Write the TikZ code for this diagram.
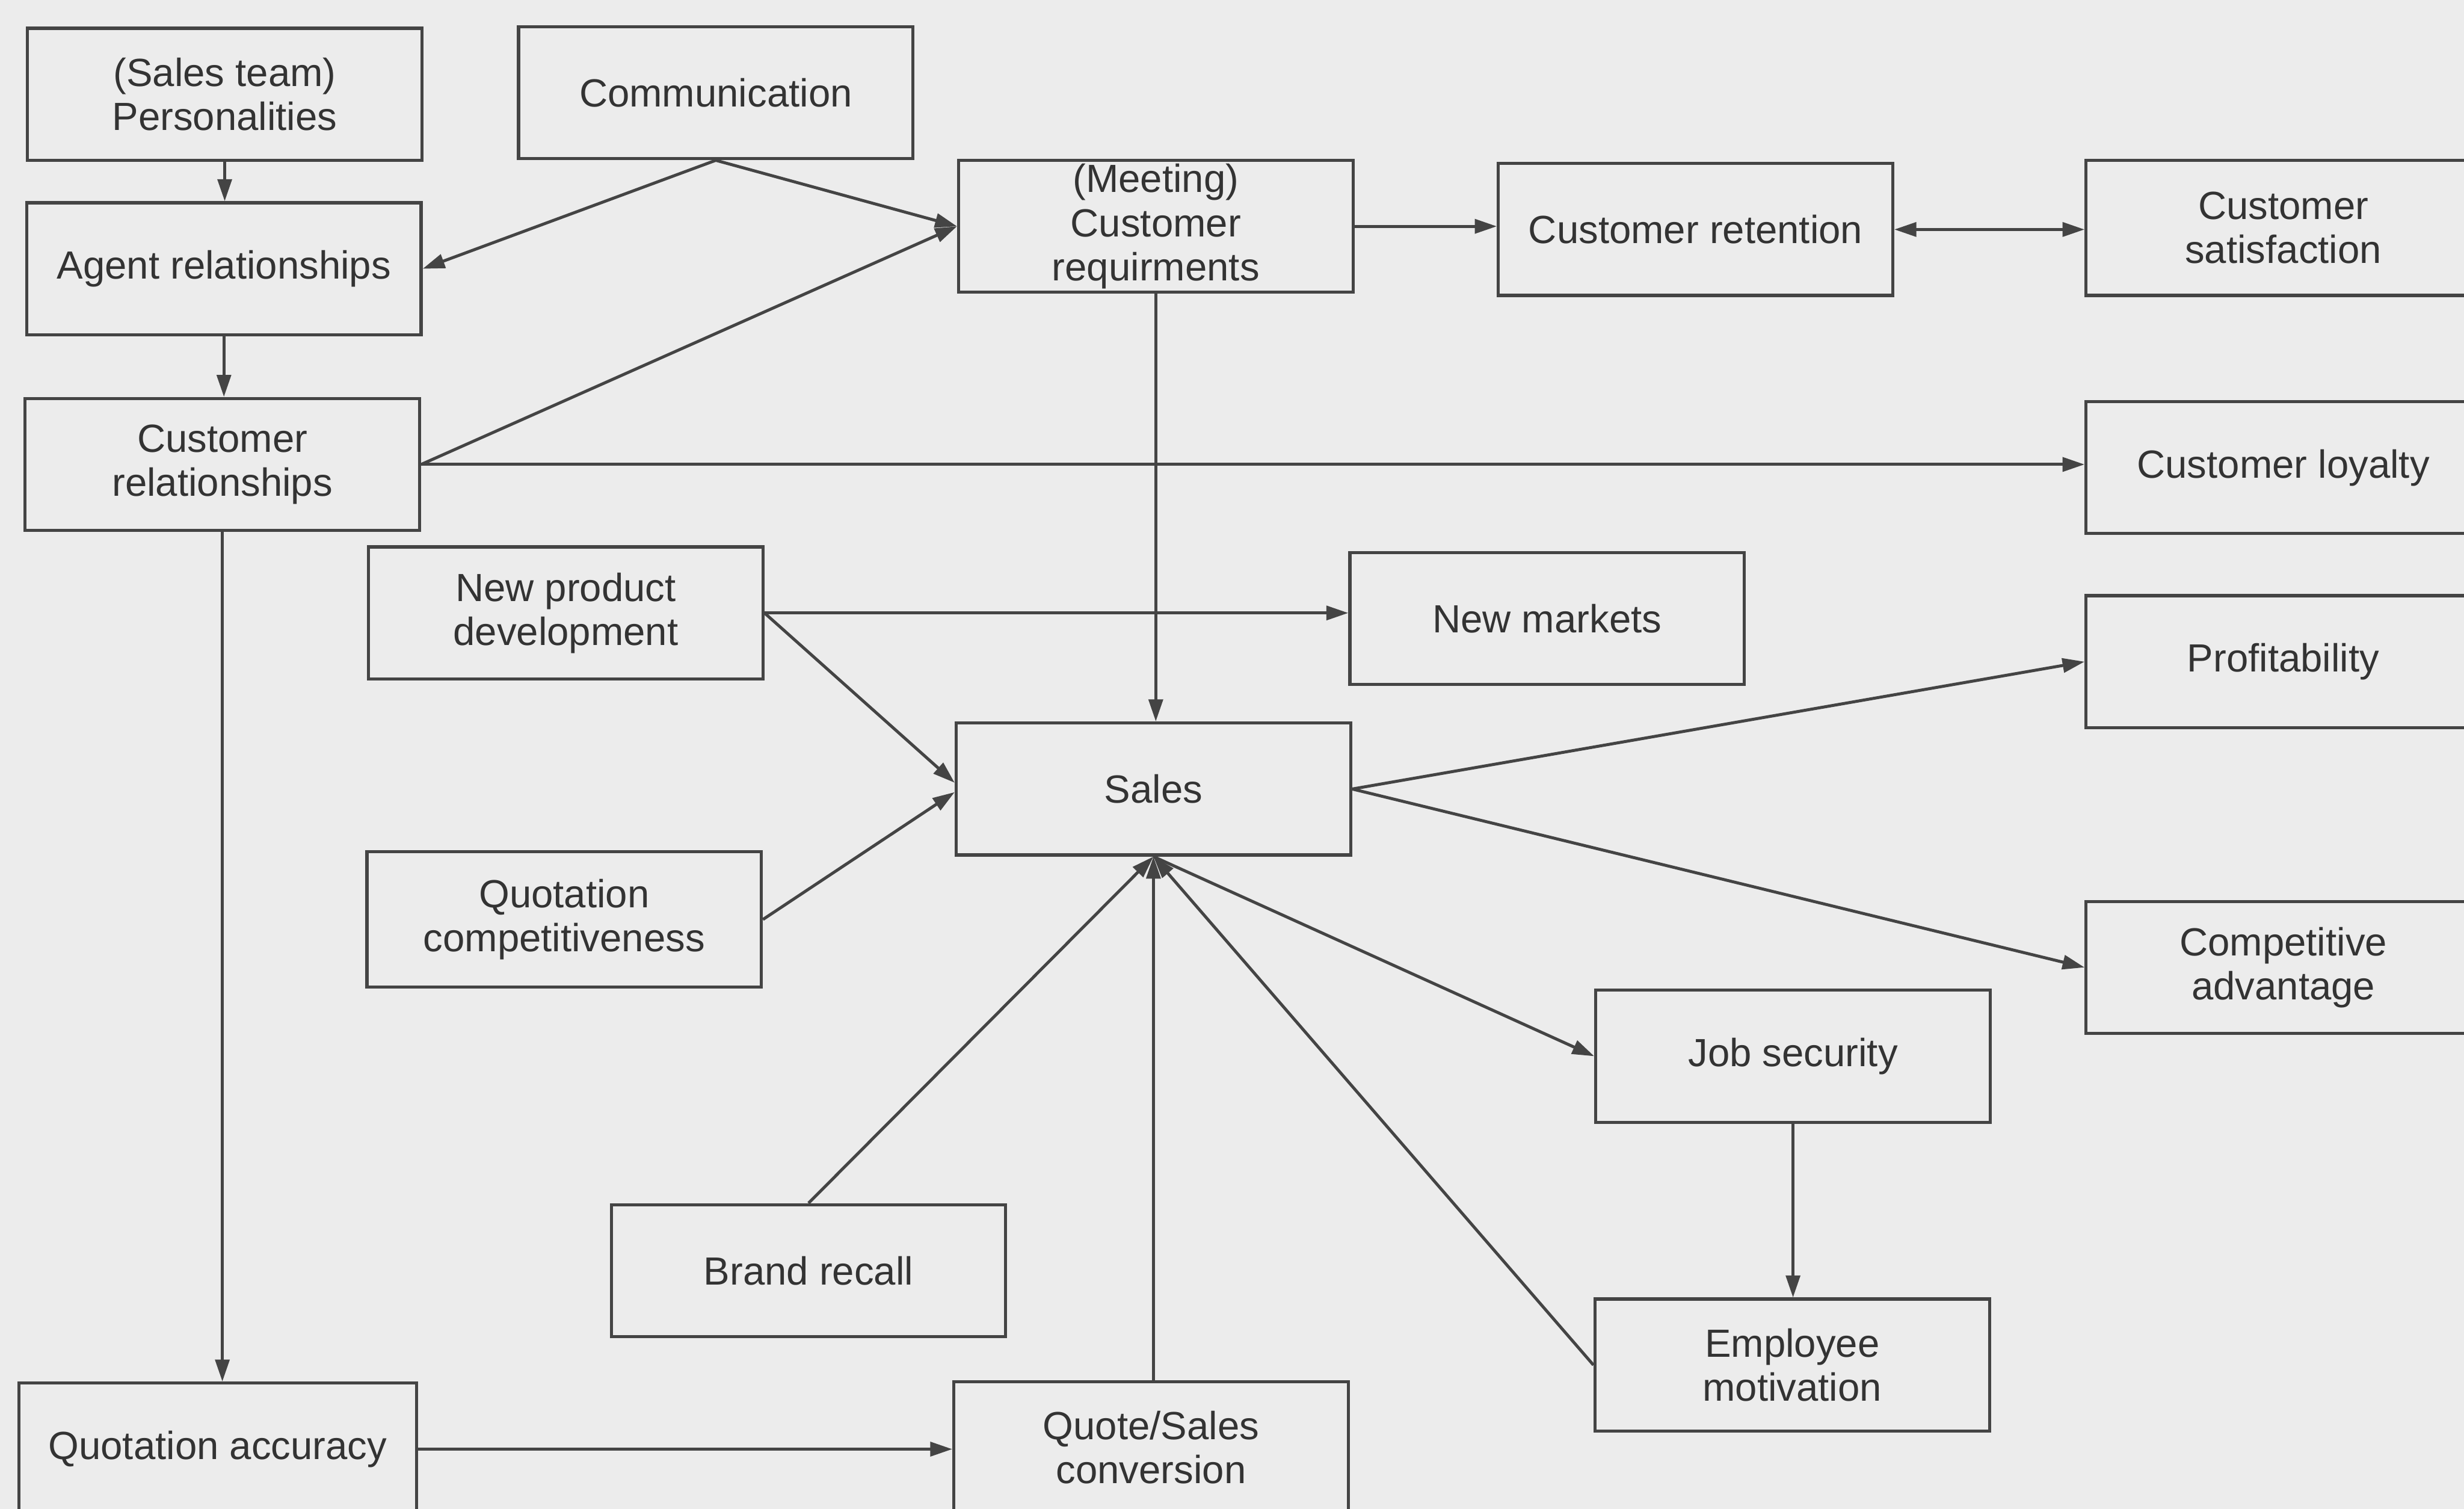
\documentclass[tikz,border=0pt]{standalone}
\usepackage{fontspec}
\setmainfont{Liberation Sans}
\usetikzlibrary{arrows.meta}
\definecolor{paper}{HTML}{ECECEC}
\definecolor{ink}{HTML}{444444}
\definecolor{txt}{HTML}{333333}
\begin{document}
\begin{tikzpicture}[x=1pt,y=-1pt,
  box/.style={draw=ink, line width=2pt, fill=paper, align=center, text=txt,
    font=\fontsize{25}{28}\selectfont, inner sep=0pt,
    minimum width=251pt, minimum height=84pt},
  tip/.tip={Triangle[length=14pt,width=9pt]},
  link/.style={draw=ink, line width=1.9pt, -tip},
  both/.style={draw=ink, line width=1.9pt, tip-tip}]
  \useasboundingbox (0,0) rectangle (1568,960);
  \fill[paper] (0,0) rectangle (1568,960);
  \clip (0,0) rectangle (1568,960);

  % boxes
  \node[box] (pers)    at (143,60)     {(Sales team)\\Personalities};
  \node[box] (comm)    at (455.5,59)   {Communication};
  \node[box] (agent)   at (142.5,171)  {Agent relationships};
  \node[box] (custrel) at (141.5,295.5){Customer\\relationships};
  \node[box] (meet)    at (735.5,144)  {(Meeting)\\Customer\\requirments};
  \node[box] (ret)     at (1079,146)   {Customer retention};
  \node[box, minimum height=86pt] (sat) at (1453,145) {Customer\\satisfaction};
  \node[box] (loyal)   at (1453,297.5) {Customer loyalty};
  \node[box] (npd)     at (360,390)    {New product\\development};
  \node[box] (newm)    at (984.5,393.5){New markets};
  \node[box] (profit)  at (1453,421)   {Profitability};
  \node[box] (sales)   at (734,502)    {Sales};
  \node[box, minimum height=86pt] (qcomp) at (359,585) {Quotation\\competitiveness};
  \node[box] (compadv) at (1453,615.5) {Competitive\\advantage};
  \node[box] (job)     at (1141,672)   {Job security};
  \node[box] (brand)   at (514.5,808.5){Brand recall};
  \node[box] (emp)     at (1140.5,868.5){Employee\\motivation};
  \node[box, minimum width=253pt] (qacc) at (138.5,922) {Quotation accuracy};
  \node[box] (qsc)     at (732.5,921)  {Quote/Sales\\conversion};

  % connectors
  \draw[link] (pers.south) -- (pers.south |- agent.north);
  \draw[link] (agent.south) -- (agent.south |- custrel.north);
  \draw[link] (comm.south) -- (agent.east);
  \draw[link] (comm.south) -- (meet.west);
  \draw[link] (custrel.east) -- (meet.west);
  \draw[link] (custrel.east) -- (custrel.east -| loyal.west);
  \draw[link] (custrel.south) -- (custrel.south |- qacc.north);
  \draw[link] (meet.east) -- (meet.east -| ret.west);
  \draw[both] (ret.east) -- (ret.east -| sat.west);
  \draw[link] (meet.south) -- (meet.south |- sales.north);
  \draw[link] (npd.east) -- (npd.east -| newm.west);
  \draw[link] (npd.east) -- ([yshift=4pt]sales.west);
  \draw[link] (qcomp.east) -- ([yshift=-2pt]sales.west);
  \draw[link] (sales.east) -- (profit.west);
  \draw[link] (sales.east) -- (compadv.west);
  \draw[link] (sales.south) -- (job.west);
  \draw[link] (job.south) -- (job.south |- emp.north);
  \draw[link] (emp.west) -- (sales.south);
  \draw[link] (brand.north) -- (sales.south);
  \draw[link] (sales.south |- qsc.north) -- (sales.south);
  \draw[link] (qacc.east) -- (qacc.east -| qsc.west);
\end{tikzpicture}
\end{document}
